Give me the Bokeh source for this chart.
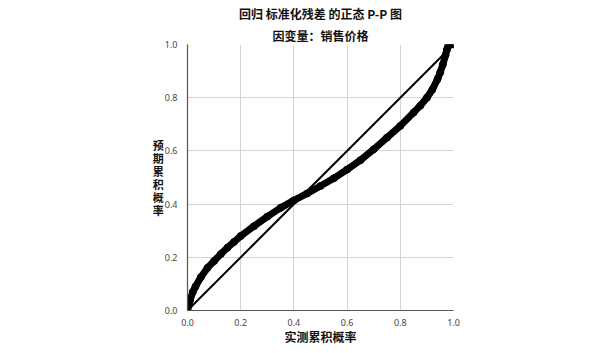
from bokeh.plotting import figure
from bokeh.models import Range1d, FixedTicker, PrintfTickFormatter, Title
from bokeh.embed import file_html
from bokeh.resources import INLINE

title_text = "回归 标准化残差 的正态 P-P 图"
subtitle_text = "因变量：销售价格"
x_label = "实测累积概率"
y_label = "预期累积概率"

observed_cum_prob = [0.0, 0.005, 0.01, 0.02, 0.03, 0.05, 0.075, 0.1, 0.125, 0.15, 0.175, 0.2,
                     0.25, 0.3, 0.35, 0.4, 0.45, 0.5, 0.55, 0.6, 0.65, 0.7, 0.75, 0.8, 0.85,
                     0.875, 0.9, 0.92, 0.94, 0.95, 0.96, 0.97, 0.975, 0.98, 0.99, 1.0]
expected_cum_prob = [0.0, 0.02, 0.04, 0.07, 0.09, 0.125, 0.16, 0.186, 0.212, 0.236, 0.258, 0.28,
                     0.317, 0.353, 0.386, 0.414, 0.44, 0.468, 0.497, 0.53, 0.565, 0.606, 0.65, 0.694, 0.744,
                     0.77, 0.80, 0.83, 0.87, 0.895, 0.925, 0.96, 0.98, 0.995, 1.0, 1.0]
diagonal = [0.0, 1.0]
ticks = [0.0, 0.2, 0.4, 0.6, 0.8, 1.0]

CJK = "Noto Sans CJK SC"

p = figure(width=600, height=353, output_backend="svg", toolbar_location=None,
           x_range=Range1d(0, 1), y_range=Range1d(0, 1),
           min_border_left=187, min_border_right=147, min_border_top=10, min_border_bottom=43)
p.title = None
p.outline_line_color = None
p.background_fill_color = "white"
p.border_fill_color = "white"

p.add_layout(Title(text=subtitle_text, align="center", text_font=CJK, text_font_size="12px",
                   text_font_style="bold", text_color="#111111", standoff=2,
                   text_line_height=1.0), "above")
p.add_layout(Title(text=title_text, align="center", text_font=CJK, text_font_size="12px",
                   text_font_style="bold", text_color="#111111", standoff=4,
                   text_line_height=1.0), "above")

for ax in (p.xaxis[0], p.yaxis[0]):
    ax.ticker = FixedTicker(ticks=ticks)
    ax.formatter = PrintfTickFormatter(format="%.1f")
    ax.major_tick_line_color = None
    ax.minor_tick_line_color = None
    ax.axis_line_color = "#555555"
    ax.axis_line_width = 1.2
    ax.major_label_text_font = "Noto Sans"
    ax.major_label_text_font_size = "9px"
    ax.major_label_text_color = "#444444"
    ax.axis_label_text_font = CJK
    ax.axis_label_text_font_size = "12px"
    ax.axis_label_text_font_style = "bold"
    ax.axis_label_text_color = "#111111"

p.xaxis.axis_label = x_label
p.xaxis.major_label_standoff = 2
p.xaxis.axis_label_standoff = -1
p.yaxis.axis_label = "\n".join(y_label)
p.yaxis.axis_label_orientation = "horizontal"
p.yaxis.axis_label_text_font_size = "11px"
p.yaxis.axis_label_text_line_height = 0.82
p.yaxis.major_label_standoff = 4
p.yaxis.axis_label_standoff = -2

for g in (p.xgrid[0], p.ygrid[0]):
    g.ticker = FixedTicker(ticks=ticks)
    g.grid_line_color = "#d4d4d4"
    g.grid_line_width = 1

p.line(diagonal, diagonal, line_color="black", line_width=2)
p.line(observed_cum_prob, expected_cum_prob, line_color="black", line_width=7,
       line_join="round", line_cap="round")
p.scatter(observed_cum_prob, expected_cum_prob, size=7, fill_color="black", line_color="black")

open("out.html", "w").write(file_html(p, INLINE))
